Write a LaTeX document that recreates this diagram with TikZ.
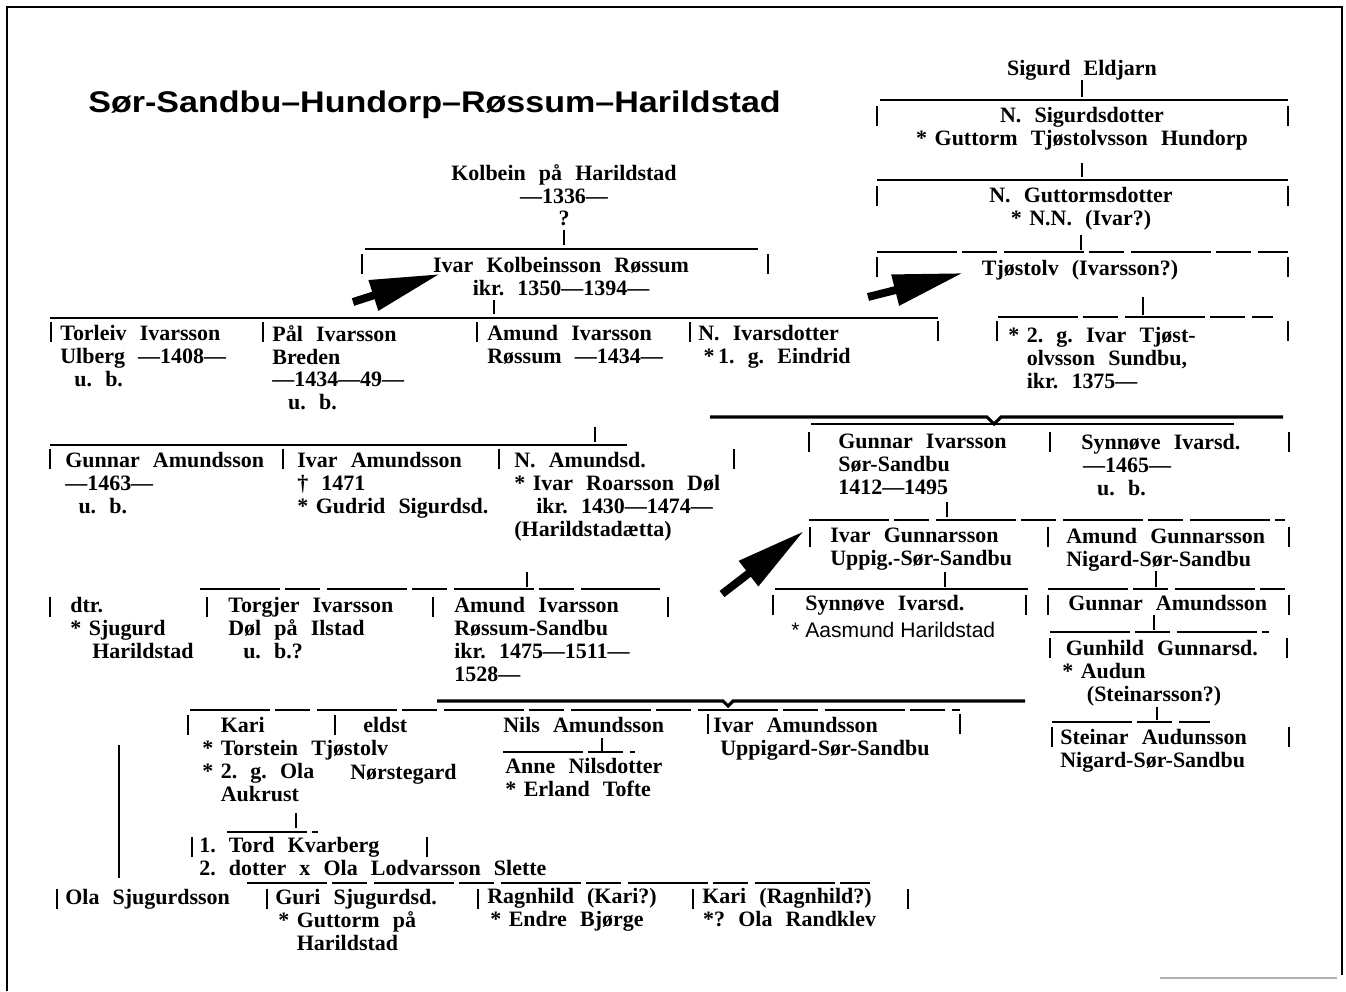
\documentclass[tikz,border=0pt]{standalone}
\usepackage{fontspec}
\setmainfont{Liberation Serif}[WordSpace=2.4]
\newfontfamily\charttitlefont{Liberation Sans}[FakeStretch=1.14]
\newfontfamily\aasfont{Liberation Sans}
\usetikzlibrary{arrows.meta, calc}

\newcommand{\pfont}{\fontsize{12.5}{13}\selectfont\bfseries}
\newcommand{\st}{\makebox[10.5pt][l]{*}}
\newcommand{\ind}{\hspace*{10.5pt}}

\begin{document}
\frenchspacing
\begin{tikzpicture}[x=0.02cm, y=-0.02cm,
  pers/.style={anchor=north west, inner sep=0pt, align=left, font=\pfont},
  persc/.style={anchor=north, inner sep=0pt, align=center, font=\pfont},
  famline/.style={line width=1.1pt},
  heavyline/.style={line width=1.8pt},
  thinline/.style={line width=0.6pt},
  brokenline/.style={line width=1pt, dash pattern=on 1.6cm off 0.1cm on 0.7cm off 0.14cm},
  tick/.style={line width=1.2pt},
  bar/.style={line width=1.6pt},
  pointer/.style={line width=4.5pt, -{Triangle[length=1.4cm, width=0.6cm]}}]
  \useasboundingbox (0,0) rectangle (1346,991);

  % frame of the scan
  \draw[line width=1.1pt] (7,991) -- (7,7) -- (1342,7) -- (1342,975);
  \draw[black!30, line width=0.8pt] (1160,978) -- (1337,978);

  % title
  \node[anchor=base west, inner sep=0pt,
        font=\fontsize{17}{20}\selectfont\charttitlefont\bfseries] (title) at (88,112)
    {Sør-Sandbu–Hundorp–Røssum–Harildstad};

  % Sigurd Eldjarn line (top right)
  \node[persc] (sigurd) at (1082,60) {Sigurd Eldjarn};
  \node[persc] (nsig) at (1082,107) {N. Sigurdsdotter\\\st Guttorm Tjøstolvsson Hundorp};
  \node[persc] (ngut) at (1081,187) {N. Guttormsdotter\\\st N.N. (Ivar?)};
  \node[persc] (tjost) at (1080,260) {Tjøstolv (Ivarsson?)};
  \node[pers] (ivarT) at (1008,327) {\st 2. g. Ivar Tjøst-\\\ind olvsson Sundbu,\\\ind ikr. 1375—};

  % Kolbein and his son
  \node[persc] (kolbein) at (564,164) {Kolbein på Harildstad\\—1336—\\?};
  \node[persc] (ivarK) at (561,257) {Ivar Kolbeinsson Røssum\\ikr. 1350—1394—};

  % children of Ivar Kolbeinsson
  \node[pers] (torleiv) at (60,325) {Torleiv Ivarsson\\Ulberg —1408—\\\hspace*{8pt}u. b.};
  \node[pers] (pal) at (272,325) {Pål Ivarsson\\Breden\\—1434—49—\\\hspace*{9pt}u. b.};
  \node[pers] (amundI) at (487,325) {Amund Ivarsson\\Røssum —1434—};
  \node[pers] (nivars) at (698,325) {N. Ivarsdotter\\\hspace*{3pt}*\hspace{2pt}1. g. Eindrid};

  % children of Amund Ivarsson
  \node[pers] (gunnarA) at (65,452) {Gunnar Amundsson\\—1463—\\\hspace*{7.5pt}u. b.};
  \node[pers] (ivarA) at (297,452) {Ivar Amundsson\\† 1471\\\st Gudrid Sigurdsd.};
  \node[pers] (namund) at (514,452)
    {N. Amundsd.\\\st Ivar Roarsson Døl\\\hspace*{12.5pt}ikr. 1430—1474—\\(Harildstadætta)};

  % Sør-Sandbu branch
  \node[pers] (gunnarI) at (838,434) {Gunnar Ivarsson\\Sør-Sandbu\\1412—1495};
  \node[pers] (synnI) at (1081,434) {Synnøve Ivarsd.\\\hspace*{1pt}—1465—\\\hspace*{9pt}u. b.};
  \node[pers] (ivarG) at (830,528) {Ivar Gunnarsson\\Uppig.-Sør-Sandbu};
  \node[pers] (amundG) at (1066,528) {Amund Gunnarsson\\Nigard-Sør-Sandbu};
  \node[pers] (synnG) at (805,595) {Synnøve Ivarsd.};
  \node[anchor=north west, inner sep=0pt, font=\aasfont\fontsize{12}{13}\selectfont]
    (aasmund) at (791,622) {* Aasmund Harildstad};
  \node[pers] (gunnarAm) at (1068,595) {Gunnar Amundsson};
  \node[pers] (gunhild) at (1062,640)
    {\hspace*{2pt}Gunhild Gunnarsd.\\\st Audun\\\hspace*{14pt}(Steinarsson?)};
  \node[pers] (steinar) at (1060,729) {Steinar Audunsson\\Nigard-Sør-Sandbu};

  % children of Ivar Amundsson
  \node[pers] (dtr) at (70,597) {dtr.\\\st Sjugurd\\\hspace*{12.5pt}Harildstad};
  \node[pers] (torgjer) at (228,597) {Torgjer Ivarsson\\Døl på Ilstad\\\hspace*{8.5pt}u. b.?};
  \node[pers] (amundIR) at (454,597) {Amund Ivarsson\\Røssum-Sandbu\\ikr. 1475—1511—\\1528—};

  % children of Amund Ivarsson Røssum-Sandbu
  \node[pers] (kari) at (202,717) {\ind Kari\\\st Torstein Tjøstolv\\\st 2. g. Ola\\\ind Aukrust};
  \node[pers] (eldst) at (363,717) {eldst};
  \node[pers] (norste) at (350,764) {Nørstegard};
  \node[pers] (nils) at (503,717) {Nils Amundsson};
  \node[pers] (anne) at (505,758) {Anne Nilsdotter\\\st Erland Tofte};
  \node[pers] (ivarAm) at (713,717) {Ivar Amundsson\\\hspace*{4pt}Uppigard-Sør-Sandbu};
  \node[pers] (tord) at (199,837) {1. Tord Kvarberg\\2. dotter x Ola Lodvarsson Slette};

  % children of dtr. and Sjugurd
  \node[pers] (olaS) at (65,889) {Ola Sjugurdsson};
  \node[pers] (guri) at (275,889)
    {Guri Sjugurdsd.\\\hspace*{1.7pt}\st Guttorm på\\\hspace*{12.2pt}Harildstad};
  \node[pers] (ragn) at (487,888) {Ragnhild (Kari?)\\\hspace*{1.7pt}\st Endre Bjørge};
  \node[pers] (karir) at (702,888) {Kari (Ragnhild?)\\\hspace*{0.5pt}*? Ola Randklev};

  % sibling lines
  \coordinate (sigL) at (880,100);  \coordinate (sigR) at (1288,100);
  \coordinate (nsL) at (877,180);   \coordinate (nsR) at (1288,180);
  \coordinate (ngL) at (877,252);   \coordinate (ngR) at (1288,252);
  \coordinate (kolL) at (365,249);  \coordinate (kolR) at (758,249);
  \coordinate (ivkL) at (50,318);   \coordinate (ivkR) at (938,318);
  \coordinate (tjL) at (998,317);   \coordinate (tjR) at (1273,317);
  \coordinate (amL) at (50,445);    \coordinate (amR) at (627,445);
  \coordinate (giL) at (809,520);   \coordinate (giR) at (1285,520);
  \coordinate (igL) at (775,589);   \coordinate (igR) at (1028,589);
  \coordinate (agL) at (1048,589);  \coordinate (agR) at (1285,589);
  \coordinate (gaL) at (1050,632);  \coordinate (gaR) at (1269,632);
  \coordinate (ghL) at (1052,722);  \coordinate (ghR) at (1210,722);
  \coordinate (iaL) at (200,589);   \coordinate (iaR) at (660,589);
  \coordinate (nlL) at (503,752);   \coordinate (nlR) at (635,752);
  \coordinate (kaL) at (227,832);   \coordinate (kaR) at (318,832);
  \coordinate (sjL) at (247,883);   \coordinate (sjR) at (870,883);

  \draw[famline] (sigL) -- (sigR);
  \draw[famline] (nsL) -- (nsR);
  \draw[brokenline] (ngL) -- (ngR);
  \draw[famline] (kolL) -- (kolR);
  \draw[famline] (ivkL) -- (ivkR);
  \draw[brokenline] (tjL) -- (tjR);
  \draw[famline] (amL) -- (amR);
  \draw[brokenline] (giL) -- (giR);
  \draw[famline] (igL) -- (igR);
  \draw[brokenline] (agL) -- (agR);
  \draw[brokenline] (gaL) -- (gaR);
  \draw[brokenline] (ghL) -- (ghR);
  \draw[brokenline] (iaL) -- (iaR);
  \draw[brokenline] (nlL) -- (nlR);
  \draw[brokenline] (kaL) -- (kaR);
  \draw[brokenline] (sjL) -- (sjR);

  % braces over the two marriages
  \coordinate (brL) at (710,417); \coordinate (brT) at (994,417); \coordinate (brR) at (1283,417);
  \draw[heavyline] (brL) -- ([xshift=-0.14cm]brT) -- ([yshift=-0.14cm]brT)
                         -- ([xshift=0.14cm]brT) -- (brR);
  \coordinate (gbL) at (811,424); \coordinate (gbR) at (1234,424);
  \draw[thinline] (gbL) -- (gbR);
  \coordinate (arL) at (437,701); \coordinate (arT) at (728,701); \coordinate (arR) at (1025,701);
  \draw[heavyline] (arL) -- ([xshift=-0.1cm]arT) -- ([yshift=-0.1cm]arT)
                         -- ([xshift=0.1cm]arT) -- (arR);
  \coordinate (abL) at (190,710); \coordinate (abR) at (960,710);
  \draw[brokenline, line width=0.6pt] (abL) -- (abR);

  % ticks from parents down to the lines
  \draw[tick] (sigurd.south |- sigL) ++(0,-3) -- ++(0,-17);
  \draw[tick] (nsig.south |- nsL) ++(0,-3) -- ++(0,-14);
  \draw[tick] (ngut.south |- ngL) ++(0,-2) -- ++(0,-15);
  \draw[tick] (kolbein.south |- kolL) ++(0,-4) -- ++(0,-15);
  \coordinate (tjT) at (1143,317);  \draw[tick] (tjT) ++(0,-2) -- ++(0,-18);
  \coordinate (ivkT) at (494,318);  \draw[tick] (ivkT) ++(0,-4) -- ++(0,-14);
  \coordinate (amT) at (595,445);   \draw[tick] (amT) ++(0,-3) -- ++(0,-15);
  \coordinate (giT) at (947,520);   \draw[tick] (giT) ++(0,-3) -- ++(0,-15);
  \coordinate (igT) at (945,589);   \draw[tick] (igT) ++(0,-2) -- ++(0,-15);
  \coordinate (agT) at (1156,589);  \draw[tick] (agT) ++(0,-2) -- ++(0,-16);
  \coordinate (gaT) at (1154,632);  \draw[tick] (gaT) ++(0,-2) -- ++(0,-15);
  \coordinate (ghT) at (1157,722);  \draw[tick] (ghT) ++(0,-2) -- ++(0,-13);
  \coordinate (iaT) at (527,589);   \draw[tick] (iaT) ++(0,-2) -- ++(0,-15);
  \coordinate (nlT) at (602,752);   \draw[tick] (nlT) ++(0,-1) -- ++(0,-13);
  \coordinate (kaT) at (296,832);   \draw[tick] (kaT) ++(0,-4) -- ++(0,-15);
  % Sjugurd's line down to his children
  \coordinate (sjTop) at (119,745); \coordinate (sjBot) at (119,878);
  \draw[bar] (sjTop) -- (sjBot);

  % end bars of each entry
  \foreach \x/\y in {877/106, 1288/106, 877/186, 1288/186, 877/257, 1288/257,
                     362/254, 768/254,
                     51/322, 263/322, 477/322, 690/322, 938/321, 997/321, 1288/321,
                     50/449, 283/449, 499/449, 734/449,
                     809/432, 1050/432, 1289/432,
                     810/527, 1048/527, 1289/527,
                     773/595, 1026/595, 1048/595, 1289/595,
                     1050/638, 1287/638, 1052/727, 1289/727,
                     50/597, 207/597, 433/597, 668/597,
                     188/715, 335/715, 708/714, 960/714,
                     192/837, 427/837,
                     57/889, 267/889, 478/889, 693/889, 908/889}
    \draw[bar] (\x,\y) -- ++(0,20);

  % the three pointers
  \coordinate (ptrA0) at (353,302); \coordinate (ptrA1) at (440,274);
  \coordinate (ptrB0) at (868,297); \coordinate (ptrB1) at (963,273);
  \coordinate (ptrC0) at (722,594); \coordinate (ptrC1) at (804,531);
  \draw[pointer] (ptrA0) -- (ptrA1);
  \draw[pointer] (ptrB0) -- (ptrB1);
  \draw[pointer] (ptrC0) -- (ptrC1);
\end{tikzpicture}
\end{document}
